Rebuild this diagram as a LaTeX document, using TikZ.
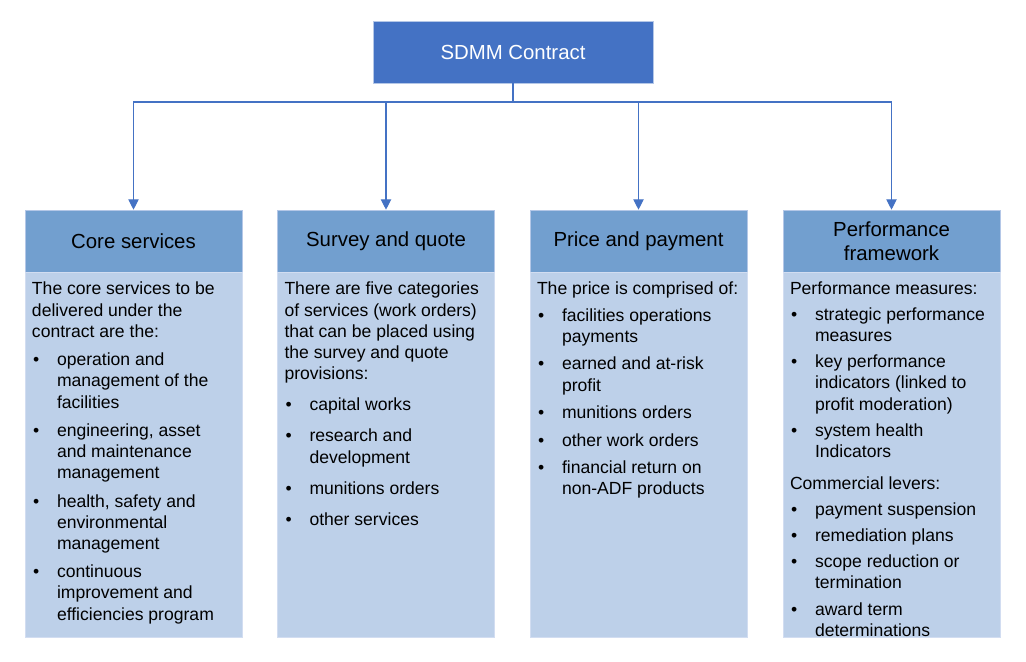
\documentclass[tikz,border=0pt]{standalone}
\usepackage{fontspec}
\setmainfont{Liberation Sans}
\usepackage{enumitem}
\usetikzlibrary{positioning, arrows.meta}
\definecolor{sdmmblue}{HTML}{4472C4}
\definecolor{headblue}{HTML}{729FCF}
\definecolor{bodyblue}{HTML}{BDD0E9}
\definecolor{edgeblue}{HTML}{B4C7E7}
\newcommand{\bodyfont}{\fontsize{12.5}{15.1}\selectfont\hyphenpenalty=10000\exhyphenpenalty=10000}
\newcommand{\headfont}{\fontsize{14.5}{17}\selectfont}
\newlist{dotlist}{itemize}{1}
\setlist[dotlist]{label=\textbullet, leftmargin=0.625cm, labelwidth=0.2cm,
  labelsep=0.4cm, align=left, topsep=5pt, partopsep=0pt, parsep=0pt, itemsep=5pt}
\tikzset{
  topbox/.style   = {rectangle, draw=edgeblue, fill=sdmmblue, text=white,
                     minimum width=7.0cm, minimum height=1.55cm, font=\headfont},
  headbox/.style  = {rectangle, draw=edgeblue, fill=headblue, text=black,
                     minimum width=5.425cm, minimum height=1.55cm, font=\headfont,
                     align=center},
  bodybox/.style  = {rectangle, draw=edgeblue!60, fill=bodyblue,
                     minimum width=5.425cm, minimum height=9.125cm},
  bodytext/.style = {anchor=north west, inner sep=0pt, text width=#1,
                     align=flush left, font=\bodyfont},
  feed/.style     = {thick, draw=sdmmblue, -{Triangle[length=2.6mm, width=2.6mm]}},
}

\begin{document}
\begin{tikzpicture}
\useasboundingbox (0,0) rectangle (25.65,16.55);

% =============== TOP ===============
\node (contract) [topbox] at (12.825,15.25) {SDMM Contract};

% =============== HEADERS ===============
\node (hcore) [headbox] at (3.3375,10.525)  {Core services};
\node (hsurv) [headbox] at (9.65,10.525)    {Survey and quote};
\node (hprice) [headbox] at (15.9625,10.525) {Price and payment};
\node (hperf) [headbox] at (22.2875,10.525) {Performance\\framework};

% =============== BODIES ===============
\foreach \h/\b in {hcore/bcore, hsurv/bsurv, hprice/bprice, hperf/bperf}
  \node (\b) [bodybox, below=0pt of \h] {};

\node [bodytext=4.9cm] at ([xshift=0.175cm, yshift=-0.24cm]bcore.north west) {%
  The core services to be delivered under the contract are the:
  \begin{dotlist}[itemsep=5pt]
    \item operation and management of the facilities
    \item engineering, asset and maintenance management
    \item health, safety and environmental management
    \item continuous improvement and efficiencies program
  \end{dotlist}};

\node [bodytext=4.95cm] at ([xshift=0.175cm, yshift=-0.24cm]bsurv.north west) {%
  There are five categories of services (work orders) that can be placed using the survey and quote provisions:
  \begin{dotlist}[itemsep=7pt, topsep=7pt]
    \item capital works
    \item research and development
    \item munitions orders
    \item other services
  \end{dotlist}};

\node [bodytext=5.15cm] at ([xshift=0.175cm, yshift=-0.24cm]bprice.north west) {%
  The price is comprised of:
  \begin{dotlist}[topsep=3.5pt, itemsep=4.5pt]
    \item facilities operations payments
    \item earned and at-risk profit
    \item munitions orders
    \item other work orders
    \item financial return on non-ADF products
  \end{dotlist}};

\node [bodytext=5.1cm] at ([xshift=0.175cm, yshift=-0.24cm]bperf.north west) {%
  Performance measures:
  \begin{dotlist}[topsep=3pt, itemsep=3.5pt]
    \item strategic performance measures
    \item key performance indicators (linked to profit moderation)
    \item system health Indicators
  \end{dotlist}
  \vspace{5pt}Commercial levers:
  \begin{dotlist}[topsep=3pt, itemsep=3.5pt]
    \item payment suspension
    \item remediation plans
    \item scope reduction or termination
    \item award term determinations
  \end{dotlist}};

% =============== CONNECTORS ===============
\coordinate (bus) at (12.825,14.0);
\draw[thick, draw=sdmmblue] (contract.south) -- (bus);
\foreach \h in {hcore, hsurv, hprice, hperf}
  \draw[feed] (bus) -| (\h.north);

\end{tikzpicture}
\end{document}
